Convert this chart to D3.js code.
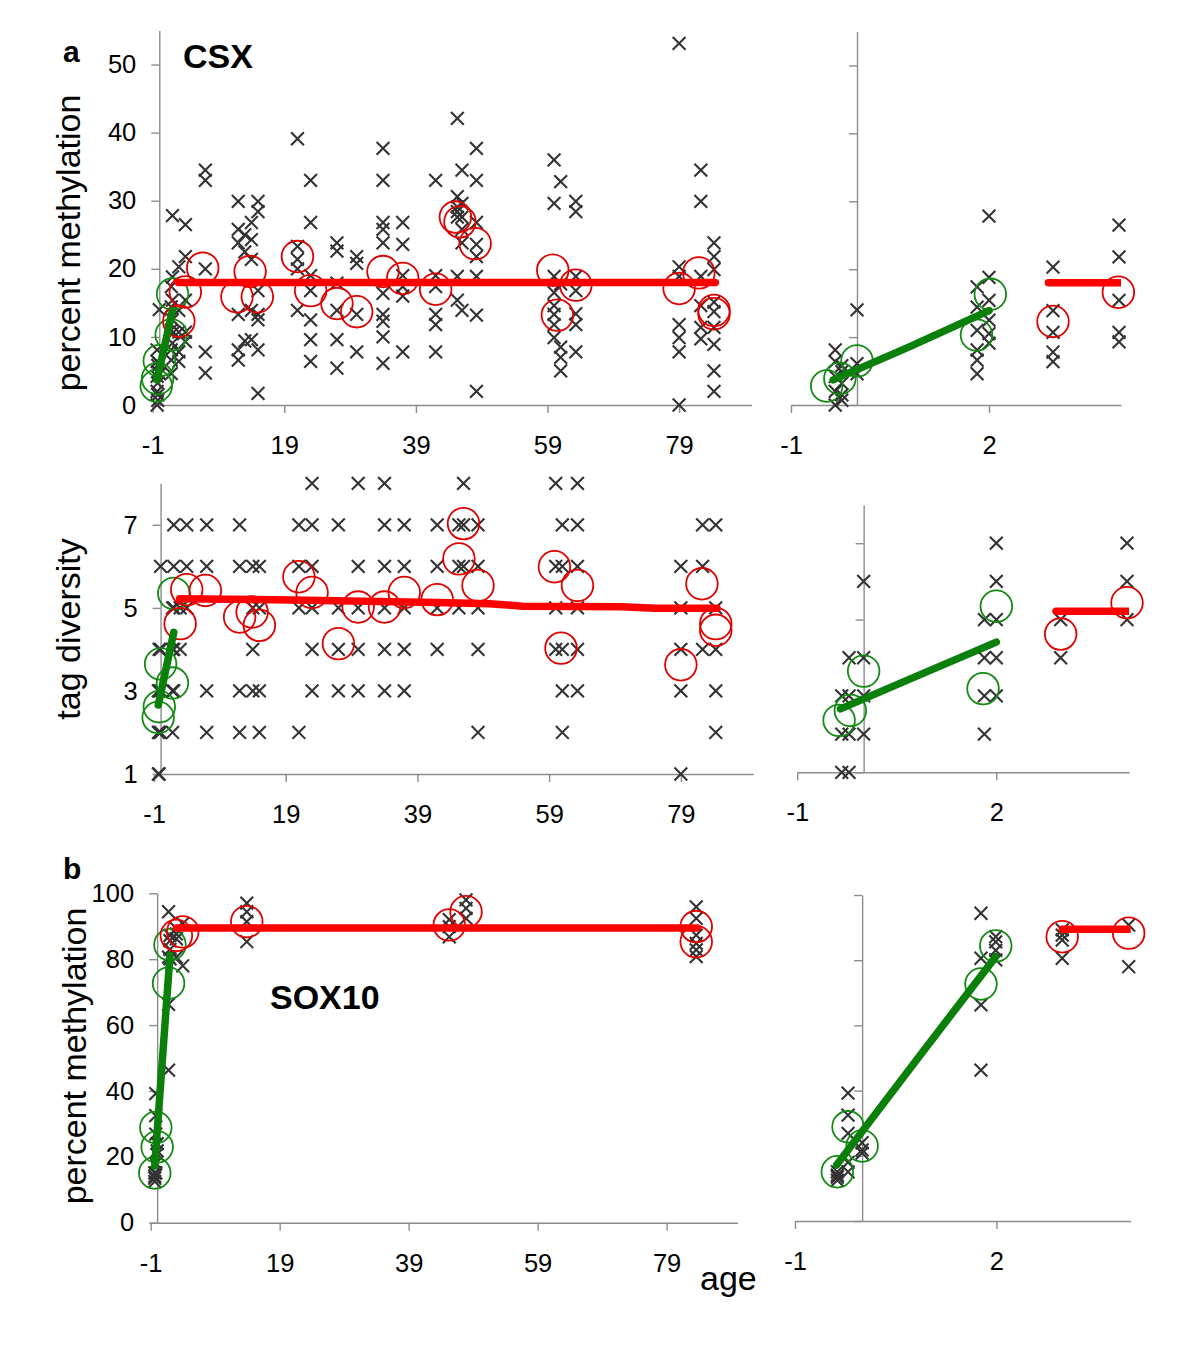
<!DOCTYPE html>
<html><head><meta charset="utf-8">
<script src="https://cdn.jsdelivr.net/npm/d3@7"></script>
<style>
body{margin:0;background:#fff;}
svg{display:block;}
text{font-family:"Liberation Sans",Arial,Helvetica,sans-serif;}
</style></head><body>
<svg id="chart" width="1200" height="1345"></svg>
<script>
// ---------------- DATA ----------------
const mainAgeTicks = [-1, 19, 39, 59, 79];
const zoomAgeTicks = [-1, 2];
const methTicks = [0, 10, 20, 30, 40, 50];
const diversityTicks = [1, 3, 5, 7];
const sox10Ticks = [0, 20, 40, 60, 80, 100];

// CSX percent methylation: individual values (x marks) per age
const csxMethMarks = [
  {age:-0.33, v:[0, 2.0, 4.2, 6.4, 8.1]},
  {age:-0.23, v:[0.7, 1.5, 3.2, 4.9, 5.8]},
  {age:0, v:[4.6, 6.1, 14.0]},
  {age:1.82, v:[4.6, 6.6, 8.1, 11.0, 14.4, 17.4]},
  {age:2.0, v:[9.1, 10.5, 12.5, 15.4, 18.8, 27.8]},
  {age:2.97, v:[6.4, 7.8, 10.7, 13.9, 20.3]},
  {age:3.97, v:[9.3, 10.7, 15.4, 21.8, 26.5]},
  {age:7, v:[4.7, 7.8, 20.0, 33.0, 34.5]},
  {age:12, v:[6.6, 8.1, 13.3, 23.8, 25.8, 29.9]},
  {age:13, v:[9.4, 22.5, 25.0]},
  {age:14, v:[9.6, 13.9, 21.4, 24.3, 26.8]},
  {age:15, v:[1.7, 8.1, 12.5, 13.3, 16.8, 28.4, 29.9]},
  {age:21, v:[13.9, 20.0, 21.4, 23.3, 39.1]},
  {age:23, v:[6.4, 9.6, 12.5, 16.8, 19.0, 26.8, 33.0]},
  {age:27, v:[5.4, 9.6, 13.9, 17.9, 22.6, 23.8]},
  {age:30, v:[7.8, 13.3, 20.8, 21.8]},
  {age:34, v:[6.1, 10.0, 12.3, 13.3, 16.4, 23.8, 25.8, 26.8, 33.0, 37.7]},
  {age:37, v:[7.8, 16.0, 17.4, 19.0, 23.6, 26.8]},
  {age:42, v:[7.8, 11.8, 13.3, 17.4, 19.0, 33.0]},
  {age:45.3, v:[15.4, 18.9, 27.6, 28.4, 29.1, 30.6, 42.1]},
  {age:46, v:[13.9, 23.8, 25.8, 27.6, 29.6, 34.5]},
  {age:48.2, v:[2.0, 13.2, 18.9, 21.8, 23.6, 26.8, 33.0, 37.7]},
  {age:60, v:[9.9, 11.8, 13.3, 14.6, 16.5, 18.9, 29.6, 36.0]},
  {age:61, v:[5.0, 7.0, 8.5, 17.8, 32.8]},
  {age:63.3, v:[7.8, 11.8, 13.4, 16.8, 18.9, 28.4, 29.9]},
  {age:79, v:[0, 7.8, 9.9, 11.8, 18.9, 20.3, 53.1]},
  {age:82.3, v:[9.7, 11.4, 14.6, 18.9, 29.9, 34.5]},
  {age:84.3, v:[2.0, 5.0, 8.9, 11.4, 13.7, 15.1, 19.9, 21.8, 23.8]}
];
const csxMethYoung = [[-0.46,2.8],[-0.26,3.9],[0,6.5],[1.81,10.3],[2.02,16.3]];
const csxMethOld = [[2.97,12.3],[3.96,16.6],[6.6,20.1],[11.8,15.9],[13.8,19.6],[14.9,15.9],[21,21.8],[23,16.8],[27,14.9],[30,13.7],[34,19.6],[37,18.6],[42,17.0],[45,27.6],[45.7,26.9],[48,23.7],[59.8,19.8],[60.5,13.2],[63.3,17.6],[79,17.1],[82,19.4],[84.3,13.9],[84.3,13.4]];
const csxMethYoungFit = [[-0.36,3.7],[0.8,8.6],[2.0,13.9]];
const csxMethOldFit = [[2.9,18.0],[84.5,18.0]];

// CSX tag diversity
const csxDivMarks = [
  {age:-0.33, v:[1,2,3]},
  {age:-0.22, v:[1,2,3,4]},
  {age:0, v:[2,3,4,6]},
  {age:1.82, v:[2,3,4,5]},
  {age:2.0, v:[3,4,5,6,7]},
  {age:2.97, v:[4,5]},
  {age:3.97, v:[5,6,7]},
  {age:7, v:[2,3,6,7]},
  {age:12, v:[2,3,6,7]},
  {age:14, v:[3,4,5,6]},
  {age:15, v:[2,3,5,6]},
  {age:21, v:[2,5,6,7]},
  {age:23, v:[3,4,5,6,7,8]},
  {age:27, v:[3,4,5,7]},
  {age:30, v:[3,4,5,6,8]},
  {age:34, v:[3,4,5,6,7,8]},
  {age:37, v:[3,4,5,6,7]},
  {age:42, v:[4,5,6,7]},
  {age:45.3, v:[5,6,7]},
  {age:46, v:[6,7,8]},
  {age:48.2, v:[2,4,5,6,7]},
  {age:60, v:[4,5,6,8]},
  {age:61, v:[2,3,4,6,7]},
  {age:63.3, v:[3,4,5,6,7,8]},
  {age:79, v:[1,3,4,5,6]},
  {age:82.3, v:[4,6,7]},
  {age:84.3, v:[2,3,4,5,7]}
];
const csxDivYoung = [[-0.37,2.36],[-0.2,2.62],[0,3.65],[1.8,3.19],[2.0,5.35]];
const csxDivOld = [[2.97,4.62],[3.97,5.44],[6.8,5.42],[12,4.78],[13.9,4.9],[15,4.58],[21,5.75],[23,5.37],[27,4.14],[30,5.02],[34,5.02],[37,5.37],[42,5.2],[45.3,6.18],[46,7.03],[48.2,5.54],[59.8,5.99],[60.8,4.03],[63.3,5.54],[79,3.63],[82.2,5.58],[84.3,4.62],[84.3,4.46]];
const csxDivYoungFit = [[-0.35,2.66],[0.8,3.52],[2.0,4.41]];
const csxDivOldFit = [[2.9,5.22],[20,5.19],[42,5.13],[50,5.1],[55,5.04],[70,5.03],[75,4.99],[84.5,4.99]];

// SOX10 percent methylation
const sox10Marks = [
  {age:-0.37, v:[12.5, 13.5, 14.1, 15.1]},
  {age:-0.21, v:[15.1, 18.0, 26.9, 32.5, 39.2]},
  {age:0, v:[20.8, 21.8, 24.0]},
  {age:1.77, v:[46.3, 66.3, 80.6, 94.4]},
  {age:1.99, v:[80.1, 83.0, 85.6, 87.2]},
  {age:2.98, v:[80.6, 86.2, 87.7, 89.3]},
  {age:3.97, v:[78.0, 90.8]},
  {age:13.9, v:[85.3, 91.4, 94.4, 97.0]},
  {age:45.3, v:[86.8, 89.9, 92.0]},
  {age:47.9, v:[92.4, 95.4, 98.0]},
  {age:83.6, v:[80.8, 82.8, 84.8, 87.3, 92.4, 95.9]}
];
const sox10Young = [[-0.37,15.1],[-0.21,28.9],[0,23.0],[1.77,72.7],[1.99,84.4]];
const sox10Old = [[2.98,87.2],[3.97,88.3],[13.9,91.4],[45.3,90.4],[47.9,94.4],[83.6,89.9],[83.6,85.3]];
const sox10YoungFit = [[-0.38,17.2],[0.81,49.4],[1.99,81.1]];
const sox10OldFit = [[2.98,89.5],[83.8,89.5]];

// ---------------- DRAWING ----------------
const svg = d3.select("#chart");
svg.append("rect").attr("width",1200).attr("height",1345).attr("fill","#fff");
const defs = svg.append("defs");

const AXIS = "#8c8c8c", MARK = "#333333", RED_C = "#e00000", GREEN_C = "#138a13", RED_L = "#ff0000", GREEN_L = "#0a7f0a";

const panels = [
  {xr:[152.7,751.5], xd:[-1,90], yr:[405,30.5], yd:[0,55], xt:mainAgeTicks, yt:methTicks, labels:true,
   marks:csxMethMarks, young:csxMethYoung, old:csxMethOld, youngFit:csxMethYoungFit, oldFit:csxMethOldFit},
  {xr:[791,1121], xd:[-1,4], yr:[405,31.5], yd:[0,55], xt:zoomAgeTicks, yt:methTicks, labels:false,
   marks:csxMethMarks, young:csxMethYoung, old:csxMethOld, youngFit:csxMethYoungFit, oldFit:csxMethOldFit},
  {xr:[154,753.3], xd:[-1,90], yr:[774,483.3], yd:[1,8], xt:mainAgeTicks, yt:diversityTicks, labels:true,
   marks:csxDivMarks, young:csxDivYoung, old:csxDivOld, youngFit:csxDivYoungFit, oldFit:csxDivOldFit},
  {xr:[797.3,1129], xd:[-1,4], yr:[772.3,505], yd:[1,8], xt:zoomAgeTicks, yt:diversityTicks, labels:false,
   marks:csxDivMarks, young:csxDivYoung, old:csxDivOld, youngFit:csxDivYoungFit, oldFit:csxDivOldFit},
  {xr:[150.7,737.5], xd:[-1,90], yr:[1222.7,893.3], yd:[0,100], xt:mainAgeTicks, yt:sox10Ticks, labels:true,
   marks:sox10Marks, young:sox10Young, old:sox10Old, youngFit:sox10YoungFit, oldFit:sox10OldFit},
  {xr:[795,1130.7], xd:[-1,4], yr:[1221,895], yd:[0,100], xt:zoomAgeTicks, yt:sox10Ticks, labels:false,
   marks:sox10Marks, young:sox10Young, old:sox10Old, youngFit:sox10YoungFit, oldFit:sox10OldFit}
];

function drawPanel(p, i) {
  const x = d3.scaleLinear().domain(p.xd).range(p.xr);
  const y = d3.scaleLinear().domain(p.yd).range(p.yr);
  const g = svg.append("g");
  const inRange = a => a >= p.xd[0] && a <= p.xd[1] + 0.05;

  const clipId = "clip" + i;
  defs.append("clipPath").attr("id", clipId).append("rect")
    .attr("x", p.xr[0]).attr("y", p.yr[1] - 30)
    .attr("width", p.xr[1] - p.xr[0]).attr("height", p.yr[0] - p.yr[1] + 60);

  const xAxis = d3.axisBottom(x).tickValues(p.xt).tickSize(8).tickSizeOuter(0)
    .tickPadding(23).tickFormat(d => String(d));
  const gx = g.append("g").attr("transform", `translate(0,${y(p.yd[0])})`).call(xAxis);
  const yAxis = d3.axisLeft(y).tickValues(p.yt).tickSize(8).tickSizeOuter(0)
    .tickPadding(15).tickFormat(p.labels ? (d => String(d)) : (() => ""));
  const gy = g.append("g").attr("transform", `translate(${x(0)},0)`).call(yAxis);
  [gx, gy].forEach(a => {
    a.select(".domain").attr("stroke", AXIS).attr("stroke-width", 1.4);
    a.selectAll(".tick line").attr("stroke", AXIS).attr("stroke-width", 1.4);
    a.selectAll(".tick text").attr("font-size", 25.5).attr("fill", "#000")
      .attr("font-family", "'Liberation Sans', Arial, sans-serif");
  });

  // x marks
  const pts = p.marks.filter(m => inRange(m.age)).flatMap(m => m.v.map(v => [m.age, v]));
  const s = 6.4;
  g.append("g").selectAll("path").data(pts).join("path")
    .attr("d", d => {
      const cx = x(d[0]), cy = y(d[1]);
      return `M${cx - s},${cy - s}L${cx + s},${cy + s}M${cx - s},${cy + s}L${cx + s},${cy - s}`;
    })
    .attr("stroke", MARK).attr("stroke-width", 2.1).attr("fill", "none");

  // circles
  g.append("g").selectAll("circle").data(p.young.filter(d => inRange(d[0]))).join("circle")
    .attr("cx", d => x(d[0])).attr("cy", d => y(d[1])).attr("r", 15.8)
    .attr("fill", "none").attr("stroke", GREEN_C).attr("stroke-width", 1.8);
  g.append("g").selectAll("circle").data(p.old.filter(d => inRange(d[0]))).join("circle")
    .attr("cx", d => x(d[0])).attr("cy", d => y(d[1])).attr("r", 15.8)
    .attr("fill", "none").attr("stroke", RED_C).attr("stroke-width", 1.8);

  // fitted lines
  const line = d3.line().x(d => x(d[0])).y(d => y(d[1]));
  const lg = g.append("g").attr("clip-path", `url(#${clipId})`);
  lg.append("path").attr("d", line(p.youngFit)).attr("fill", "none")
    .attr("stroke", GREEN_L).attr("stroke-width", 7.5).attr("stroke-linecap", "round").attr("stroke-linejoin", "round");
  lg.append("path").attr("d", line(p.oldFit)).attr("fill", "none")
    .attr("stroke", RED_L).attr("stroke-width", 7.5).attr("stroke-linecap", "round").attr("stroke-linejoin", "round");
}
panels.forEach(drawPanel);

// ---------------- TEXT ----------------
const FONT = "'Liberation Sans', Arial, sans-serif";
function txt(t, x, y, size, weight, rot) {
  const e = svg.append("text").text(t).attr("font-size", size).attr("font-weight", weight || "normal")
    .attr("fill", "#000").attr("font-family", FONT);
  if (rot) e.attr("text-anchor", "middle").attr("transform", `translate(${x},${y}) rotate(-90)`);
  else e.attr("x", x).attr("y", y);
  return e;
}
txt("a", 63, 62, 30, "bold");
txt("CSX", 183, 68, 34, "bold");
txt("b", 63, 879, 30, "bold");
txt("SOX10", 270, 1009, 34, "bold");
txt("percent methylation", 80, 243, 34, "normal", true);
txt("tag diversity", 80, 629, 34, "normal", true);
txt("percent methylation", 86, 1056, 34, "normal", true);
txt("age", 700, 1290, 34, "normal");
</script>
</body></html>
